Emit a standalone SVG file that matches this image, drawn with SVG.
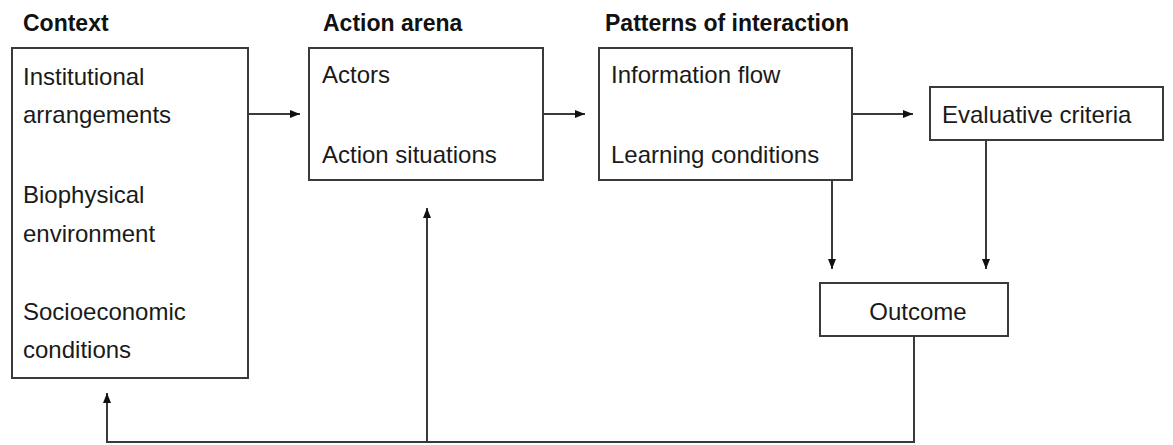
<svg xmlns="http://www.w3.org/2000/svg" width="1173" height="445" viewBox="0 0 1173 445">
<style>
.box{fill:#fff;stroke:#3a3a3a;stroke-width:2}
.t{font-family:"Liberation Sans",Arial,sans-serif;font-size:24px;fill:#1a1a1a}
.h{font-family:"Liberation Sans",Arial,sans-serif;font-size:23px;font-weight:bold;fill:#111}
.c{fill:none;stroke:#3a3a3a;stroke-width:2}
</style>
<defs>
<marker id="ah" viewBox="0 0 10 10" refX="10" refY="5" markerWidth="10" markerHeight="10" markerUnits="userSpaceOnUse" orient="auto">
<path d="M0,1 L10,5 L0,9 Z" fill="#111"/>
</marker>
</defs>
<rect width="1173" height="445" fill="#fff"/>
<g id="context">
<text class="h" x="23" y="31">Context</text>
<rect class="box" x="12" y="48" width="236" height="330"/>
<text class="t" x="23" y="85">Institutional</text>
<text class="t" x="23" y="123">arrangements</text>
<text class="t" x="23" y="203">Biophysical</text>
<text class="t" x="23" y="242">environment</text>
<text class="t" x="23" y="320">Socioeconomic</text>
<text class="t" x="23" y="358">conditions</text>
</g>
<g id="action-arena">
<text class="h" x="323" y="31">Action arena</text>
<rect class="box" x="309" y="48" width="234" height="132"/>
<text class="t" x="322" y="83">Actors</text>
<text class="t" x="322" y="163">Action situations</text>
</g>
<g id="patterns">
<text class="h" x="605" y="31">Patterns of interaction</text>
<rect class="box" x="599" y="48" width="253" height="132"/>
<text class="t" x="611" y="83">Information flow</text>
<text class="t" x="611" y="163">Learning conditions</text>
</g>
<g id="evaluative">
<rect class="box" x="930" y="87" width="233" height="53"/>
<text class="t" x="942" y="123">Evaluative criteria</text>
</g>
<g id="outcome">
<rect class="box" x="820" y="283" width="188" height="53"/>
<text class="t" x="918" y="320" text-anchor="middle">Outcome</text>
</g>
<g id="connectors">
<line class="c" x1="248" y1="114" x2="300" y2="114" marker-end="url(#ah)"/>
<line class="c" x1="543" y1="114" x2="585" y2="114" marker-end="url(#ah)"/>
<line class="c" x1="852" y1="114" x2="913" y2="114" marker-end="url(#ah)"/>
<line class="c" x1="832" y1="180" x2="832" y2="269" marker-end="url(#ah)"/>
<line class="c" x1="986" y1="140" x2="986" y2="269" marker-end="url(#ah)"/>
<polyline class="c" points="914,336 914,442 107,442 107,393" marker-end="url(#ah)"/>
<line class="c" x1="427" y1="442" x2="427" y2="208" marker-end="url(#ah)"/>
</g>
</svg>
